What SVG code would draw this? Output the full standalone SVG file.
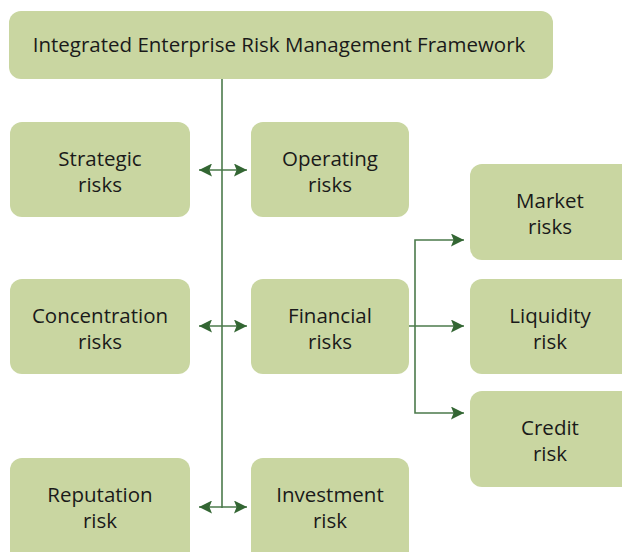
<svg xmlns="http://www.w3.org/2000/svg" width="622" height="552" viewBox="0 0 622 552">
<style>
.box{fill:#c9d6a1}
.t{font-family:"Open Sans",Lato,sans-serif;font-size:20.5px;fill:#1a1a1a;text-anchor:middle}
.ln{stroke:#4b7a4b;stroke-width:1.6;fill:none}
</style>
<defs>
<marker id="ah" viewBox="0 0 10 10" refX="10" refY="5" markerWidth="17" markerHeight="13" markerUnits="userSpaceOnUse" orient="auto-start-reverse">
<path d="M0,0 L10,5 L0,10 L2,5 z" fill="#336633"/>
</marker>
</defs>
<g id="connectors">
<path class="ln" d="M222,79 V508"/>
<path class="ln" d="M199,170 H247" marker-start="url(#ah)" marker-end="url(#ah)"/>
<path class="ln" d="M199,326 H247" marker-start="url(#ah)" marker-end="url(#ah)"/>
<path class="ln" d="M199,507 H247" marker-start="url(#ah)" marker-end="url(#ah)"/>
<path class="ln" d="M409,326 H464" marker-end="url(#ah)"/>
<path class="ln" d="M464,240 H415 V413 H464" marker-start="url(#ah)" marker-end="url(#ah)"/>
</g>
<g id="title"><rect class="box" x="9" y="11" width="544" height="68" rx="12"/><text class="t" x="279" y="52">Integrated Enterprise Risk Management Framework</text></g>
<g id="strategic"><rect class="box" x="10" y="122" width="180" height="95" rx="12"/><text class="t" x="100" y="166">Strategic</text><text class="t" x="100" y="192">risks</text></g>
<g id="operating"><rect class="box" x="251" y="122" width="158" height="95" rx="12"/><text class="t" x="330" y="166">Operating</text><text class="t" x="330" y="192">risks</text></g>
<g id="concentration"><rect class="box" x="10" y="279" width="180" height="95" rx="12"/><text class="t" x="100" y="323">Concentration</text><text class="t" x="100" y="349">risks</text></g>
<g id="financial"><rect class="box" x="251" y="279" width="158" height="95" rx="12"/><text class="t" x="330" y="323">Financial</text><text class="t" x="330" y="349">risks</text></g>
<g id="reputation"><rect class="box" x="10" y="458" width="180" height="110" rx="12"/><text class="t" x="100" y="502">Reputation</text><text class="t" x="100" y="528">risk</text></g>
<g id="investment"><rect class="box" x="251" y="458" width="158" height="110" rx="12"/><text class="t" x="330" y="502">Investment</text><text class="t" x="330" y="528">risk</text></g>
<g id="market"><rect class="box" x="470" y="164" width="164" height="96" rx="12"/><text class="t" x="550" y="208">Market</text><text class="t" x="550" y="234">risks</text></g>
<g id="liquidity"><rect class="box" x="470" y="279" width="164" height="95" rx="12"/><text class="t" x="550" y="323">Liquidity</text><text class="t" x="550" y="349">risk</text></g>
<g id="credit"><rect class="box" x="470" y="391" width="164" height="96" rx="12"/><text class="t" x="550" y="435">Credit</text><text class="t" x="550" y="461">risk</text></g>
</svg>
